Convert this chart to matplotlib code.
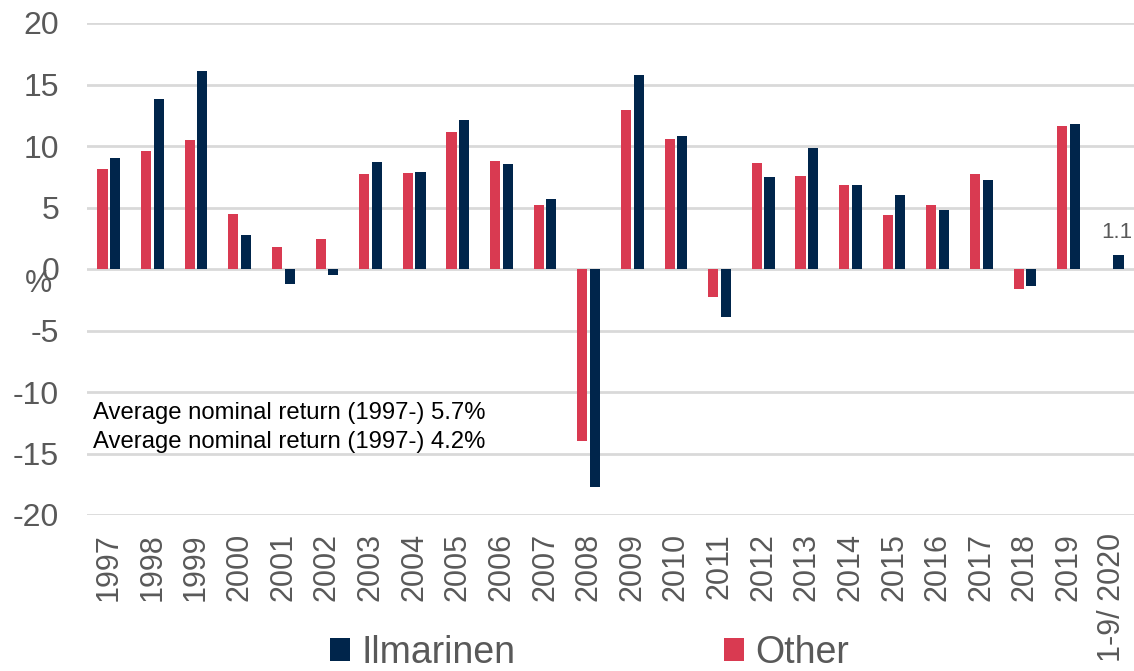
import numpy as np
import matplotlib
matplotlib.use("Agg")
import matplotlib.pyplot as plt

years = ["1997", "1998", "1999", "2000", "2001", "2002", "2003", "2004", "2005", "2006",
         "2007", "2008", "2009", "2010", "2011", "2012", "2013", "2014", "2015", "2016",
         "2017", "2018", "2019", "1-9/ 2020"]
other = [8.1, 9.6, 10.5, 4.5, 1.8, 2.4, 7.7, 7.8, 11.1, 8.8,
         5.2, -14.0, 12.9, 10.6, -2.3, 8.6, 7.6, 6.8, 4.4, 5.2,
         7.7, -1.6, 11.6, np.nan]
ilmarinen = [9.0, 13.8, 16.1, 2.8, -1.2, -0.5, 8.7, 7.9, 12.1, 8.5,
             5.7, -17.7, 15.8, 10.8, -3.9, 7.5, 9.8, 6.8, 6.0, 4.8,
             7.2, -1.4, 11.8, 1.1]
yticks = [-20, -15, -10, -5, 0, 5, 10, 15, 20]
notes = ["Average nominal return (1997-) 5.7%", "Average nominal return (1997-) 4.2%"]

RED = "#D93A51"
NAVY = "#00254B"
GRAY = "#595959"

plt.rcParams['font.family'] = ['Liberation Sans', 'DejaVu Sans']

fig = plt.figure(figsize=(11.34, 6.71), dpi=100)
ax = fig.add_axes([87/1134, 1 - 515/671, 1 - 87/1134, (515 - 23)/671])

x = np.arange(len(years))
w = 0.23
b_other = ax.bar(x - 0.145, other, width=w, color=RED, label="Other", zorder=3)
b_ilm = ax.bar(x + 0.145, ilmarinen, width=w, color=NAVY, label="Ilmarinen", zorder=3)

ax.set_xlim(-0.5, len(years) - 0.5)
ax.set_ylim(-20, 20)
ax.set_yticks(yticks)
ax.set_yticklabels([str(v) for v in yticks])
ax.set_xticks(x)
ax.set_xticklabels(years, rotation=90, va="top", ha="center")
ax.tick_params(axis="y", length=0, labelsize=23, labelcolor=GRAY, pad=20)
ax.tick_params(axis="x", length=0, labelsize=22, labelcolor=GRAY, pad=13)
ax.grid(axis="y", color="#D9D9D9", linewidth=2, zorder=0)
ax.set_axisbelow(True)
for s in ax.spines.values():
    s.set_visible(False)

# value label for last bar
ax.annotate(f"{ilmarinen[-1]:.1f}", xy=(x[-1] + 0.145, ilmarinen[-1]), xytext=(-1, 9),
            textcoords="offset points", ha="center", va="bottom", fontsize=16, color=GRAY)

ax.text(0.006, 0.207, notes[0], transform=ax.transAxes, fontsize=17.2, color="black", va="center")
ax.text(0.006, 0.148, notes[1], transform=ax.transAxes, fontsize=17.2, color="black", va="center")

fig.text(38/1134, 1 - 284/671, "%", fontsize=22, color=GRAY, ha="center", va="center")

fig.legend(handles=[b_ilm, b_other], labels=["Ilmarinen", "Other"], loc="lower center",
           bbox_to_anchor=(0.52, -0.05), ncol=2, frameon=False, fontsize=27,
           handlelength=0.55, handleheight=0.6, handletextpad=0.3, columnspacing=5.55,
           labelcolor=GRAY)

fig.savefig("out.png", dpi=100)
